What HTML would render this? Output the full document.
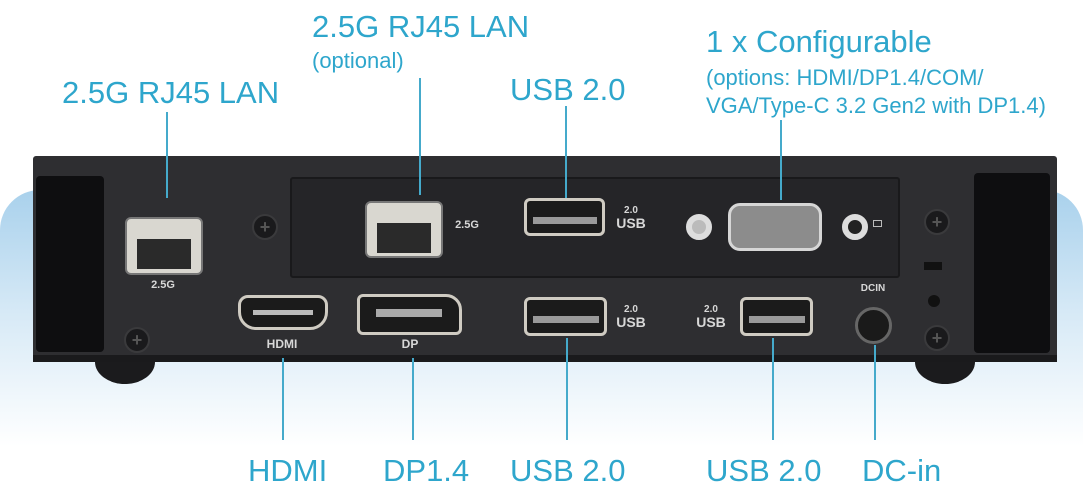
<!DOCTYPE html>
<html><head><meta charset="utf-8"><style>
*{margin:0;padding:0;box-sizing:border-box}
body{width:1083px;height:497px;position:relative;overflow:hidden;background:#fff;font-family:"Liberation Sans",sans-serif}
.a{position:absolute}
.lbl{position:absolute;color:#2ea6cc;font-size:31px;white-space:nowrap;line-height:1}
.sm{font-size:22px}
.ln{position:absolute;width:2px;background:#45aacb}
.port{position:absolute;background:#e8e6e0;border-radius:6px;border:2px solid #777}
.wt{position:absolute;color:#d8d8d8;font-weight:bold;font-size:11px;line-height:1;text-align:center}
.screw{position:absolute;width:26px;height:26px;border-radius:50%;background:#1a1a1c;border:2px solid #3a3a3c}
.screw:after{content:"+";position:absolute;left:0;right:0;top:1px;text-align:center;color:#555;font-size:18px;font-weight:bold}
</style></head><body>
<div class="a" style="left:0;top:190px;width:1083px;height:270px;border-radius:40px 40px 0 0;background:linear-gradient(#a9d1ec,#d6e9f6 45%,#fff 95%)"></div>
<div class="a" style="left:95px;top:340px;width:60px;height:44px;border-radius:50%;background:#1b1b1d"></div>
<div class="a" style="left:915px;top:340px;width:60px;height:44px;border-radius:50%;background:#1b1b1d"></div>
<div class="a" style="left:33px;top:156px;width:1024px;height:206px;background:#2e2e31;border-radius:3px"></div>
<div class="a" style="left:33px;top:355px;width:1024px;height:7px;background:#1a1a1c"></div>
<div class="a" style="left:36px;top:176px;width:68px;height:176px;background:#0e0e10;border-radius:4px"></div>
<div class="a" style="left:974px;top:173px;width:76px;height:180px;background:#0e0e10;border-radius:4px"></div>
<div class="a" style="left:290px;top:177px;width:610px;height:101px;background:#252528;border:2px solid #19191b;border-radius:3px"></div>
<div class="port" style="left:125px;top:217px;width:78px;height:58px;background:#d9d7d0"><div class="a" style="left:10px;top:20px;width:54px;height:30px;background:#2a2a2a"></div></div>
<div class="wt" style="left:148px;top:280px;width:30px">2.5G</div>
<div class="port" style="left:365px;top:201px;width:78px;height:57px;background:#d9d7d0"><div class="a" style="left:10px;top:20px;width:54px;height:30px;background:#2a2a2a"></div></div>
<div class="wt" style="left:450px;top:220px;width:34px">2.5G</div>
<div class="screw" style="left:252px;top:214px"></div>
<div class="screw" style="left:124px;top:327px"></div>
<div class="screw" style="left:924px;top:209px"></div>
<div class="screw" style="left:924px;top:325px"></div>
<div class="a" style="left:924px;top:262px;width:18px;height:8px;background:#111"></div>
<div class="a" style="left:928px;top:295px;width:12px;height:12px;border-radius:50%;background:#111"></div>
<div class="port" style="left:238px;top:295px;width:90px;height:35px;border-radius:10px 10px 18px 18px;background:#1b1b1b;border:3px solid #cfcbc2"><div class="a" style="left:12px;top:12px;width:60px;height:5px;background:#bbb"></div></div>
<div class="wt" style="left:262px;top:338px;width:40px;font-size:12px">HDMI</div>
<div class="port" style="left:357px;top:294px;width:105px;height:41px;border-radius:6px 16px 6px 6px;background:#1b1b1b;border:3px solid #cfcbc2"><div class="a" style="left:16px;top:12px;width:66px;height:8px;background:#aaa"></div></div>
<div class="wt" style="left:398px;top:338px;width:24px;font-size:12px">DP</div>
<div class="port" style="left:524px;top:198px;width:81px;height:38px;background:#1b1b1b;border:3px solid #cfcbc2"><div class="a" style="left:6px;top:16px;width:64px;height:7px;background:#999"></div></div>
<div class="wt" style="left:614px;top:206px;width:34px;font-size:10px">2.0<br><span style="font-size:14px">USB</span></div>
<div class="port" style="left:524px;top:297px;width:83px;height:39px;background:#1b1b1b;border:3px solid #cfcbc2"><div class="a" style="left:6px;top:16px;width:66px;height:7px;background:#999"></div></div>
<div class="wt" style="left:614px;top:305px;width:34px;font-size:10px">2.0<br><span style="font-size:14px">USB</span></div>
<div class="port" style="left:740px;top:297px;width:73px;height:39px;background:#1b1b1b;border:3px solid #cfcbc2"><div class="a" style="left:6px;top:16px;width:56px;height:7px;background:#999"></div></div>
<div class="wt" style="left:694px;top:305px;width:34px;font-size:10px">2.0<br><span style="font-size:14px">USB</span></div>
<div class="a" style="left:686px;top:214px;width:26px;height:26px;border-radius:50%;background:#bbb;border:6px solid #ddd"></div>
<div class="a" style="left:842px;top:214px;width:26px;height:26px;border-radius:50%;background:#222;border:6px solid #ddd"></div>
<div class="a" style="left:728px;top:203px;width:94px;height:48px;border-radius:12px;background:#8c8c8c;border:3px solid #d6d6d6"></div>
<div class="a" style="left:873px;top:220px;width:9px;height:7px;border:1px solid #bbb"></div>
<div class="wt" style="left:858px;top:284px;width:30px;font-size:10px">DCIN</div>
<div class="a" style="left:855px;top:307px;width:37px;height:37px;border-radius:50%;background:#1a1a1a;border:3px solid #666"></div>
<div class="ln" style="left:166px;top:112px;height:86px"></div>
<div class="ln" style="left:419px;top:78px;height:117px"></div>
<div class="ln" style="left:565px;top:106px;height:92px"></div>
<div class="ln" style="left:780px;top:120px;height:80px"></div>
<div class="ln" style="left:282px;top:358px;height:82px"></div>
<div class="ln" style="left:412px;top:358px;height:82px"></div>
<div class="ln" style="left:566px;top:338px;height:102px"></div>
<div class="ln" style="left:772px;top:338px;height:102px"></div>
<div class="ln" style="left:874px;top:345px;height:95px"></div>
<div class="lbl" style="left:62px;top:77px">2.5G RJ45 LAN</div>
<div class="lbl" style="left:312px;top:11px">2.5G RJ45 LAN</div>
<div class="lbl sm" style="left:312px;top:50px">(optional)</div>
<div class="lbl" style="left:510px;top:74px">USB 2.0</div>
<div class="lbl" style="left:706px;top:26px">1 x Configurable</div>
<div class="lbl sm" style="left:706px;top:67px">(options: HDMI/DP1.4/COM/</div>
<div class="lbl sm" style="left:706px;top:95px">VGA/Type-C 3.2 Gen2 with DP1.4)</div>
<div class="lbl" style="left:248px;top:455px">HDMI</div>
<div class="lbl" style="left:383px;top:455px">DP1.4</div>
<div class="lbl" style="left:510px;top:455px">USB 2.0</div>
<div class="lbl" style="left:706px;top:455px">USB 2.0</div>
<div class="lbl" style="left:862px;top:455px">DC-in</div>
</body></html>
